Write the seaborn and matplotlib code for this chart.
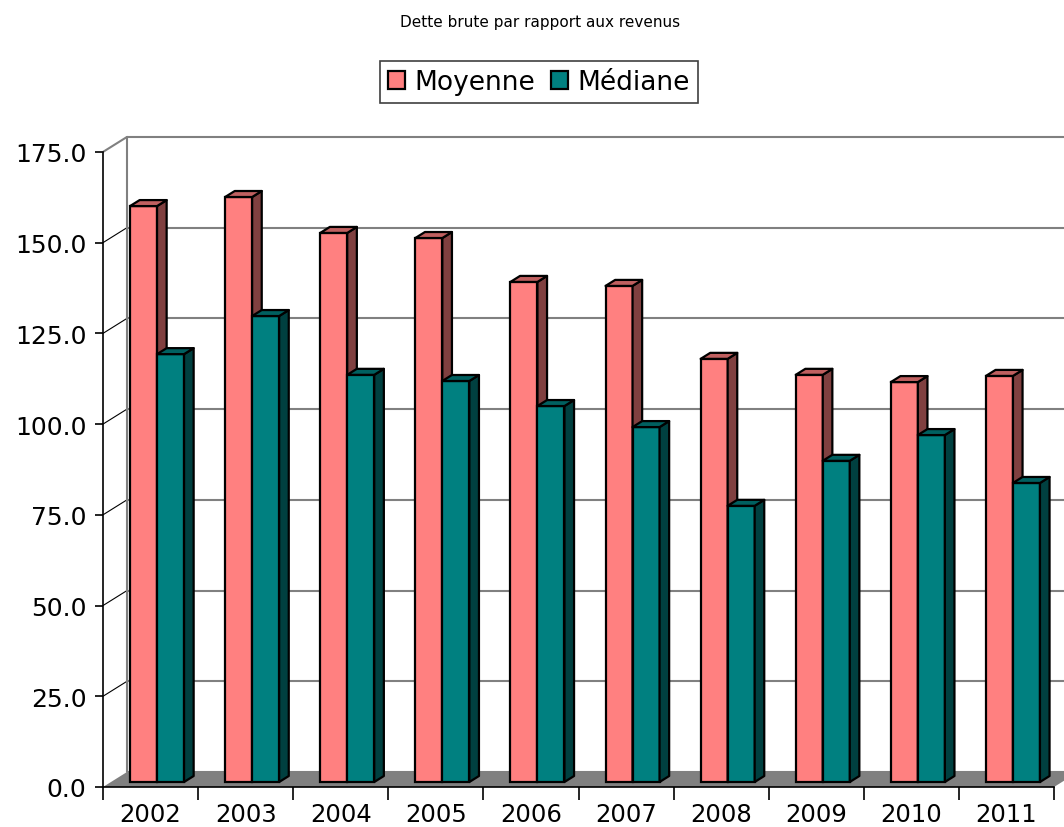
import numpy as np
import pandas as pd
import seaborn as sns
import matplotlib
matplotlib.use("Agg")
import matplotlib.pyplot as plt
from matplotlib.patches import Polygon, Patch
from matplotlib.transforms import ScaledTranslation

# ---- data ----
years = ['2002', '2003', '2004', '2005', '2006', '2007', '2008', '2009', '2010', '2011']
moyenne = [158.7, 161.2, 151.3, 149.9, 137.8, 136.7, 116.6, 112.2, 110.2, 111.9]
mediane = [117.9, 128.4, 112.2, 110.5, 103.6, 97.8, 76.1, 88.5, 95.6, 82.4]
series_names = ['Moyenne', 'Médiane']
yticks = [0, 25, 50, 75, 100, 125, 150, 175]
title = 'Dette brute par rapport aux revenus'

front_colors = ['#FF8080', '#008080']
side_colors = ['#804040', '#004040']
top_colors = ['#C06060', '#006060']

df = pd.DataFrame({
    'year': years * 2,
    'value': moyenne + mediane,
    'series': [series_names[0]] * len(years) + [series_names[1]] * len(years),
})

sns.set_style('white')
plt.rcParams['font.family'] = ['DejaVu Sans']
plt.rcParams['text.color'] = 'black'
plt.rcParams['xtick.color'] = 'black'
plt.rcParams['ytick.color'] = 'black'

W, H = 1064, 828
fig = plt.figure(figsize=(W / 100, H / 100), dpi=100)
# axes: left edge at px 103, value 0 at px 788, top at px 138
ax = fig.add_axes([103 / W, (H - 788) / H, (W - 103) / W, (788 - 138) / H])

PX_X = 95.1   # px per category
PX_Y = 3.629  # px per value unit

sns.barplot(data=df, x='year', y='value', hue='series', palette=front_colors,
            width=0.568, edgecolor='black', linewidth=1.6, saturation=1,
            ax=ax, legend=False)

xmax = -0.5 + (W - 103) / PX_X
ymax = (788 - 138) / PX_Y
ax.set_xlim(-0.5, xmax)
ax.set_ylim(0, ymax)

# wall depth (data units)
DX = 24 / PX_X
DY = 15 / PX_Y
n = len(years)

# floor
ax.add_patch(Polygon([(-0.5, 0), (n - 0.5, 0), (n - 0.5 + DX, DY), (-0.5 + DX, DY)],
                     closed=True, facecolor='#808080', edgecolor='none',
                     zorder=1, clip_on=False))
# back wall gridlines + left wall diagonals
for v in yticks:
    ax.plot([-0.5 + DX, xmax + 1], [v + DY, v + DY], color='#808080', lw=1.5,
            zorder=0.5, clip_on=False, solid_capstyle='butt')
    if 0 < v < yticks[-1]:
        ax.plot([-0.5, -0.5 + DX], [v, v + DY], color='black', lw=0.8,
                zorder=0.6, clip_on=False)
ax.plot([-0.5, -0.5 + DX], [yticks[-1], yticks[-1] + DY], color='#808080', lw=1.5,
        zorder=0.6, clip_on=False)
ax.plot([-0.5 + DX, -0.5 + DX], [DY, yticks[-1] + DY], color='#808080', lw=1.5,
        zorder=0.6, clip_on=False)

# 3D bars
off = ScaledTranslation(6.5 / 100, 5 / 100, fig.dpi_scale_trans)
tr = ax.transData + off
BDX = 9.6 / PX_X
BDY = 6 / PX_Y
for j, cont in enumerate(ax.containers):
    for bar in cont:
        bar.set_transform(tr)
        bar.set_zorder(3 + j)
        bar.set_clip_on(False)
        x0 = bar.get_x()
        x1 = x0 + bar.get_width()
        h = bar.get_height()
        side = Polygon([(x1, 0), (x1 + BDX, BDY), (x1 + BDX, h + BDY), (x1, h)],
                       closed=True, facecolor=side_colors[j], edgecolor='black',
                       lw=1.6, joinstyle='round', transform=tr, zorder=3.5 + j,
                       clip_on=False)
        top = Polygon([(x0, h), (x1, h), (x1 + BDX, h + BDY), (x0 + BDX, h + BDY)],
                      closed=True, facecolor=top_colors[j], edgecolor='black',
                      lw=1.6, joinstyle='round', transform=tr, zorder=3.5 + j,
                      clip_on=False)
        ax.add_patch(side)
        ax.add_patch(top)

# axes styling
for s in ['top', 'right']:
    ax.spines[s].set_visible(False)
ax.spines['left'].set_bounds(0, yticks[-1])
ax.spines['bottom'].set_bounds(-0.5, n - 0.5)
for s in ['left', 'bottom']:
    ax.spines[s].set_color('black')
    ax.spines[s].set_linewidth(1.2)
    ax.spines[s].set_zorder(2)

ax.set_yticks(yticks)
ax.set_yticklabels([f'{v:.1f}' for v in yticks])
ax.set_xticks(np.arange(-0.5, n, 1.0))
ax.set_xticklabels([])
ax.set_xticks(np.arange(n), minor=True)
ax.set_xticklabels(years, minor=True)
ax.tick_params(axis='y', direction='out', length=6, width=1.2, colors='black',
               labelsize=18, pad=6, left=True)
ax.tick_params(axis='x', which='major', direction='out', length=9, width=1.2,
               colors='black', bottom=True)
ax.tick_params(axis='x', which='minor', length=0, labelsize=17.5, pad=11,
               labelcolor='black')
ax.set_xlabel('')
ax.set_ylabel('')
ax.grid(False)

# legend
handles = [Patch(facecolor=c, edgecolor='black', lw=1.6) for c in front_colors]
leg = ax.legend(handles, series_names, loc='center',
                bbox_to_anchor=(539 / W, 1 - 83 / H), bbox_transform=fig.transFigure,
                ncol=2, fontsize=19, frameon=True, fancybox=False, framealpha=1,
                edgecolor='#404040', handlelength=0.65, handleheight=0.65,
                handletextpad=0.35, columnspacing=0.6, borderpad=0.3,
                borderaxespad=0)
leg.get_frame().set_linewidth(1.2)
for t in leg.get_texts():
    t.set_color('black')

fig.text(540 / W, 1 - 22 / H, title, ha='center', va='center', fontsize=11,
         color='black')

fig.savefig('out.png', dpi=100)
